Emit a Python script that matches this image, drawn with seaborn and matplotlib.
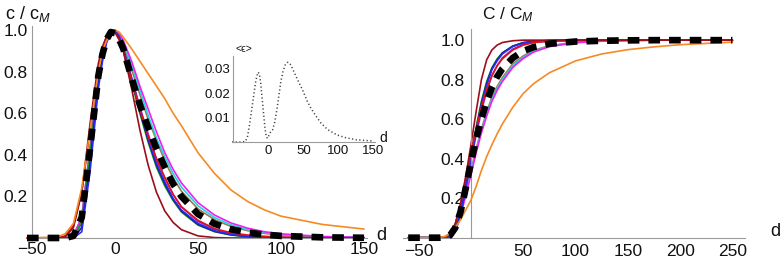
import matplotlib
matplotlib.use('Agg')
import matplotlib.pyplot as plt
from matplotlib.ticker import MultipleLocator, FixedLocator
import seaborn as sns

# values
x_left = [-53, -35, -30, -25, -20, -15, -10, -7.5, -5, -2.5, 0, 2.5, 5, 10, 15, 20, 25, 30, 35,
          40, 50, 60, 70, 80, 90, 100, 125, 150]
dashed_left = [0, 0, 0, 0.01, 0.10, 0.43, 0.78, 0.885, 0.955, 0.99, 0.985, 0.955, 0.91, 0.77,
               0.64, 0.53, 0.43, 0.34, 0.26, 0.20, 0.115, 0.068, 0.042, 0.026, 0.016, 0.01,
               0.003, 0.001]
darkred_left = [0, 0, 0.005, 0.05, 0.22, 0.55, 0.84, 0.92, 0.97, 0.995, 0.99, 0.955, 0.90, 0.72,
                0.52, 0.35, 0.22, 0.13, 0.075, 0.04, 0.01, 0.002, 0, 0, 0, 0, 0, 0]
red_left = [0, 0, 0.01, 0.06, 0.22, 0.52, 0.82, 0.91, 0.97, 0.995, 0.99, 0.955, 0.90, 0.76,
            0.62, 0.49, 0.38, 0.29, 0.21, 0.15, 0.085, 0.045, 0.025, 0.014, 0.008, 0.004,
            0.001, 0]
blue_left = [0, 0, 0, 0, 0.03, 0.32, 0.72, 0.85, 0.94, 0.985, 0.995, 0.97, 0.91, 0.77, 0.62,
             0.48, 0.36, 0.27, 0.19, 0.135, 0.07, 0.035, 0.017, 0.008, 0.004, 0.002, 0, 0]
navy_left = [0, 0, 0, 0, 0.05, 0.36, 0.75, 0.87, 0.95, 0.99, 0.995, 0.965, 0.91, 0.76, 0.61,
             0.47, 0.35, 0.26, 0.185, 0.13, 0.065, 0.032, 0.015, 0.007, 0.003, 0.001, 0, 0]
purple_left = [0, 0, 0, 0.005, 0.07, 0.40, 0.77, 0.88, 0.95, 0.99, 0.995, 0.965, 0.91, 0.77,
               0.63, 0.50, 0.38, 0.29, 0.21, 0.15, 0.08, 0.042, 0.021, 0.011, 0.005, 0.002,
               0, 0]
green_left = [0, 0, 0, 0.005, 0.08, 0.40, 0.77, 0.89, 0.96, 0.99, 0.99, 0.96, 0.90, 0.75, 0.60,
              0.46, 0.34, 0.25, 0.18, 0.125, 0.062, 0.03, 0.014, 0.006, 0.003, 0.001, 0, 0]
brown_left = [0, 0, 0, 0.01, 0.10, 0.43, 0.78, 0.89, 0.96, 0.99, 0.995, 0.975, 0.93, 0.81,
              0.69, 0.57, 0.47, 0.37, 0.29, 0.225, 0.14, 0.088, 0.055, 0.035, 0.022, 0.014,
              0.005, 0.002]
cyan_left = [0, 0, 0, 0.01, 0.10, 0.43, 0.78, 0.89, 0.96, 0.99, 0.995, 0.98, 0.94, 0.83, 0.71,
             0.59, 0.48, 0.39, 0.31, 0.245, 0.155, 0.098, 0.063, 0.04, 0.026, 0.017, 0.006,
             0.002]
magenta_left = [0, 0, 0, 0.01, 0.10, 0.43, 0.78, 0.89, 0.96, 0.99, 0.995, 0.985, 0.95, 0.85,
                0.73, 0.62, 0.51, 0.41, 0.33, 0.265, 0.17, 0.11, 0.072, 0.047, 0.03, 0.02,
                0.007, 0.003]
orange_left = [0, 0.005, 0.02, 0.07, 0.24, 0.52, 0.80, 0.90, 0.95, 0.985, 1.0, 0.99, 0.965,
               0.91, 0.85, 0.79, 0.73, 0.67, 0.60, 0.54, 0.41, 0.31, 0.23, 0.175, 0.135, 0.105,
               0.065, 0.043]

x_right = [-60, -40, -30, -25, -20, -15, -10, -5, 0, 5, 10, 15, 20, 25, 30, 40, 50, 60, 75,
           100, 125, 150, 175, 200, 250]
dashed_right = [0, 0, 0, 0.002, 0.012, 0.05, 0.13, 0.25, 0.38, 0.50, 0.60, 0.69, 0.76, 0.815,
                0.855, 0.91, 0.945, 0.965, 0.982, 0.993, 0.997, 0.999, 1, 1, 1]
darkred_right = [0, 0, 0, 0.004, 0.02, 0.07, 0.17, 0.31, 0.47, 0.64, 0.80, 0.90, 0.95, 0.975,
                 0.988, 0.997, 1, 1, 1, 1, 1, 1, 1, 1, 1]
red_right = [0, 0, 0, 0.004, 0.02, 0.07, 0.17, 0.30, 0.43, 0.55, 0.66, 0.75, 0.82, 0.87, 0.905,
             0.95, 0.975, 0.988, 0.995, 0.999, 1, 1, 1, 1, 1]
blue_right = [0, 0, 0, 0, 0.003, 0.03, 0.11, 0.25, 0.40, 0.54, 0.67, 0.77, 0.85, 0.895, 0.93,
              0.968, 0.985, 0.993, 0.998, 1, 1, 1, 1, 1, 1]
navy_right = [0, 0, 0, 0, 0.004, 0.035, 0.12, 0.26, 0.41, 0.55, 0.68, 0.78, 0.855, 0.90, 0.935,
              0.97, 0.987, 0.994, 0.998, 1, 1, 1, 1, 1, 1]
purple_right = [0, 0, 0, 0.001, 0.006, 0.04, 0.12, 0.25, 0.39, 0.52, 0.64, 0.74, 0.82, 0.87, 0.91,
                0.955, 0.978, 0.989, 0.996, 0.999, 1, 1, 1, 1, 1]
green_right = [0, 0, 0, 0.001, 0.006, 0.045, 0.13, 0.27, 0.42, 0.56, 0.69, 0.79, 0.86, 0.905,
               0.935, 0.97, 0.988, 0.995, 0.998, 1, 1, 1, 1, 1, 1]
brown_right = [0, 0, 0, 0.001, 0.01, 0.045, 0.12, 0.23, 0.34, 0.45, 0.55, 0.635, 0.71, 0.765,
               0.81, 0.88, 0.92, 0.948, 0.972, 0.99, 0.996, 0.998, 1, 1, 1]
cyan_right = [0, 0, 0, 0.001, 0.01, 0.045, 0.12, 0.22, 0.33, 0.44, 0.54, 0.625, 0.70, 0.755, 0.80,
              0.87, 0.913, 0.943, 0.97, 0.988, 0.995, 0.998, 1, 1, 1]
magenta_right = [0, 0, 0, 0.001, 0.01, 0.045, 0.115, 0.21, 0.32, 0.43, 0.53, 0.615, 0.69, 0.745,
                 0.79, 0.862, 0.907, 0.94, 0.967, 0.987, 0.995, 0.998, 1, 1, 1]
orange_right = [0, 0, 0.002, 0.006, 0.02, 0.05, 0.09, 0.14, 0.19, 0.26, 0.34, 0.41, 0.47, 0.525,
                0.575, 0.66, 0.73, 0.78, 0.835, 0.895, 0.93, 0.952, 0.966, 0.977, 0.99]

# inset: mean error
x_inset = [-52, -40, -33, -30, -27, -24, -21, -18, -15, -13, -11, -9, -7, -5, -3, -1, 1, 3, 6, 9,
           12, 15, 18, 21, 24, 27, 29, 32, 36, 40, 45, 50, 55, 60, 67, 75, 85, 98, 110, 126, 150]
err_inset = [0, 0, 0.0002, 0.002, 0.007, 0.013, 0.019, 0.025, 0.0285, 0.028, 0.024, 0.018, 0.012,
             0.006, 0.002, 0.0015, 0.003, 0.004, 0.005, 0.008, 0.013, 0.019, 0.025, 0.029, 0.0315,
             0.0325, 0.0325, 0.0315, 0.029, 0.0265, 0.0235, 0.0205, 0.017, 0.0142, 0.011, 0.0078,
             0.005, 0.0029, 0.0018, 0.0009, 0.0004]

left_series = [('#a0784a', brown_left), ('#1fd3e6', cyan_left), ('#f01ef0', magenta_left),
               ('#7a2fc0', purple_left), ('#16a016', green_left), ('#1a1a8c', navy_left),
               ('#2a2af5', blue_left), ('#e31020', red_left), ('#9c0f1a', darkred_left),
               ('#f68a24', orange_left)]
right_series = [('#a0784a', brown_right), ('#1fd3e6', cyan_right), ('#f01ef0', magenta_right),
                ('#7a2fc0', purple_right), ('#16a016', green_right), ('#1a1a8c', navy_right),
                ('#2a2af5', blue_right), ('#e31020', red_right), ('#9c0f1a', darkred_right),
                ('#f68a24', orange_right)]

sns.set_theme(style='white')
plt.rcParams['font.family'] = ['Liberation Sans', 'DejaVu Sans']
plt.rcParams['mathtext.fontset'] = 'custom'
plt.rcParams['mathtext.rm'] = 'Liberation Sans'
plt.rcParams['mathtext.it'] = 'Liberation Sans:italic'
plt.rcParams['mathtext.default'] = 'regular'

axis_gray = '#9a9a9a'
text_col = '#111111'

fig = plt.figure(figsize=(7.82, 2.63), dpi=100)
ax1 = fig.add_axes([0.0345, 0.0951, 0.4352, 0.8068])
ax2 = fig.add_axes([0.5153, 0.0962, 0.4373, 0.7924])
ax3 = fig.add_axes([0.2967, 0.4600, 0.1825, 0.3260])


def style_axes(ax, xorigin, fs, pad):
    for s in ['top', 'right']:
        ax.spines[s].set_visible(False)
    ax.spines['left'].set_position(('data', xorigin))
    ax.spines['bottom'].set_position(('data', 0))
    for s in ['left', 'bottom']:
        ax.spines[s].set_color(axis_gray)
        ax.spines[s].set_linewidth(0.8)
    ax.tick_params(which='major', direction='in', length=4, width=0.7, color=axis_gray,
                   labelsize=fs, labelcolor=text_col, pad=pad)
    ax.tick_params(which='minor', direction='in', length=2, width=0.5, color=axis_gray)
    ax.set_xlabel('')
    ax.set_ylabel('')
    ax.grid(False)
    ax.patch.set_alpha(0)


def draw_curves(ax, x, series, dashed):
    for col, ys in series:
        sns.lineplot(x=x, y=ys, color=col, lw=1.2, ax=ax, clip_on=False)
    sns.lineplot(x=x, y=dashed, color='black', lw=4.8, ax=ax, clip_on=False,
                 dashes=False, zorder=5)
    line = ax.get_lines()[-1]
    line.set_dashes((1.75, 1.35))
    line.set_dash_capstyle('butt')


# left panel
draw_curves(ax1, x_left, left_series, dashed_left)
ax1.set_xlim(-53, 152)
ax1.set_ylim(0, 1.02)
style_axes(ax1, -50, 12.5, 3)
ax1.xaxis.set_major_locator(FixedLocator([-50, 0, 50, 100, 150]))
ax1.xaxis.set_minor_locator(MultipleLocator(10))
ax1.yaxis.set_major_locator(FixedLocator([0.2, 0.4, 0.6, 0.8, 1.0]))
ax1.yaxis.set_minor_locator(MultipleLocator(0.05))
ax1.set_yticklabels(['0.2', '0.4', '0.6', '0.8', '1.0'])
ax1.set_xticklabels(['\u221250', '0', '50', '100', '150'])

# right panel
draw_curves(ax2, x_right, right_series, dashed_right)
ax2.set_xlim(-65, 262)
ax2.set_ylim(0, 1.055)
style_axes(ax2, 0, 12.5, 4.5)
ax2.xaxis.set_major_locator(FixedLocator([-50, 50, 100, 150, 200, 250]))
ax2.xaxis.set_minor_locator(MultipleLocator(10))
ax2.yaxis.set_major_locator(FixedLocator([0.2, 0.4, 0.6, 0.8, 1.0]))
ax2.yaxis.set_minor_locator(MultipleLocator(0.05))
ax2.set_yticklabels(['0.2', '0.4', '0.6', '0.8', '1.0'])
ax2.set_xticklabels(['\u221250', '50', '100', '150', '200', '250'])

# inset
sns.lineplot(x=x_inset, y=err_inset, color='#444444', lw=1.1, ax=ax3, clip_on=False)
ax3.get_lines()[-1].set_linestyle((0, (0.8, 1.6)))
ax3.set_xlim(-52, 152)
ax3.set_ylim(0, 0.035)
style_axes(ax3, -50, 9.5, 2)
ax3.xaxis.set_major_locator(FixedLocator([0, 50, 100, 150]))
ax3.xaxis.set_minor_locator(MultipleLocator(10))
ax3.yaxis.set_major_locator(FixedLocator([0.01, 0.02, 0.03]))
ax3.yaxis.set_minor_locator(MultipleLocator(0.002))
ax3.set_yticklabels(['0.01', '0.02', '0.03'])
ax3.set_xticklabels(['0', '50', '100', '150'])
ax3.tick_params(which='major', length=3)
ax3.tick_params(which='minor', length=1.5)

# axis labels
fig.text(5 / 782, 1 - 14 / 263, r'c / $c_{\mathit{M}}$', fontsize=13, color=text_col,
         ha='left', va='center')
fig.text(482 / 782, 1 - 15 / 263, r'C / $C_{\mathit{M}}$', fontsize=12.5, color=text_col,
         ha='left', va='center')
fig.text(381 / 782, 1 - 236 / 263, 'd', fontsize=13, color=text_col, ha='center', va='center')
fig.text(775 / 782, 1 - 232 / 263, 'd', fontsize=13, color=text_col, ha='center', va='center')
fig.text(383 / 782, 1 - 138 / 263, 'd', fontsize=10, color=text_col, ha='center', va='center')
fig.text(244 / 782, 1 - 49 / 263, '<\u03f5>', fontsize=7.5, color=text_col, ha='center',
         va='center')

fig.savefig('out.png', dpi=100)
